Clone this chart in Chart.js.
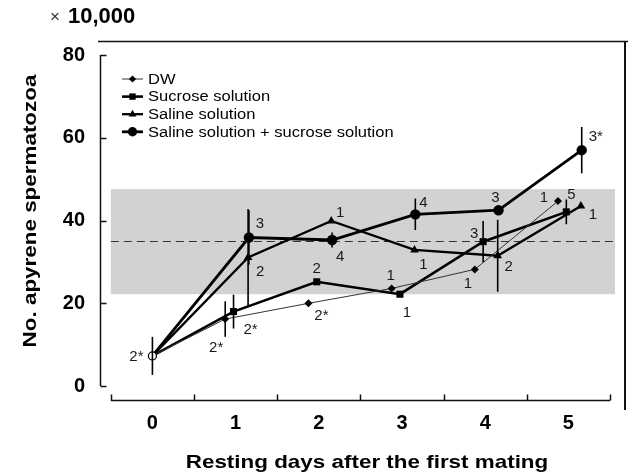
<!DOCTYPE html>
<html>
<head>
<meta charset="utf-8">
<script src="https://cdn.jsdelivr.net/npm/chart.js@4.4.0/dist/chart.umd.min.js"></script>
<style>
  html, body { margin: 0; padding: 0; background: #fff; }
</style>
</head>
<body>
<canvas id="spermChart" width="628" height="472"></canvas>
<script>
// ---- data (x 10,000 apyrene spermatozoa) ----
const days = [0, 1, 2, 3, 4, 5];
const seriesNames = ['DW', 'Sucrose solution', 'Saline solution', 'Saline solution + sucrose solution'];

const dwValues      = [7.3, 16.2, 20.0, 23.6, 28.2, 44.7];
const sucroseValues = [7.3, 18.0, 25.2, 22.2, 34.9, 42.1];
const salineValues  = [7.3, 31.1, 39.9, 32.9, 31.5, 43.5];
const mixValues     = [7.3, 35.9, 35.3, 41.5, 42.5, 57.0];

const dwErrors      = [4.6, 4.3, 0, 0, 0, 0];
const sucroseErrors = [0, 4.1, 0, 0, 5.0, 3.0];
const salineErrors  = [0, 11.7, 0, 0, 8.7, 0];
const mixErrors     = [0, 6.6, 1.8, 3.8, 0, 5.6];

const dwNotes      = ['2*', '2*', '2*', '1', '1', '1'];
const sucroseNotes = ['', '2*', '2', '1', '3', '5'];
const salineNotes  = ['', '2', '1', '1', '2', '1'];
const mixNotes     = ['', '3', '4', '4', '3', '3*'];

const yTicks = [0, 20, 40, 60, 80];
const normalLow = 22.2;
const normalHigh = 47.6;
const normalMean = 35;

// ---- styles ----
const FONT = "Arial, 'Liberation Sans', sans-serif";
const STRETCH = 1.18;

const seriesStyle = [
  { marker: 'rectRot',  radius: 4,   line: 1,   color: '#333', dodge: -0.125 },
  { marker: 'rect',     radius: 5,   line: 2.6, color: '#000', dodge: -0.025 },
  { marker: 'triangle', radius: 5,   line: 2.3, color: '#000', dodge: 0.15 },
  { marker: 'circle',   radius: 5.2, line: 2.8, color: '#000', dodge: 0.16 }
];

// pixel nudges of the sample-size notes from their points
const noteOffsets = [
  [[-16, 1], [-9, 29], [13, 13], [-1, -13], [-7, 14], [-14, -3]],
  [null, [17, 18], [0, -13], [7, 19], [-9, -8], [5, -17]],
  [null, [12, 14], [9, -8], [9, 15], [11, 11], [12, 9]],
  [null, [11, -14], [8, 17], [8, -11], [-3, -12], [14, -13]]
];

const allValues = [dwValues, sucroseValues, salineValues, mixValues];
const allErrors = [dwErrors, sucroseErrors, salineErrors, mixErrors];
const allNotes = [dwNotes, sucroseNotes, salineNotes, mixNotes];

function xOf(s, i) {
  return days[i] === 0 ? 0 : days[i] + seriesStyle[s].dodge;
}

const datasets = seriesNames.map((name, s) => {
  const st = seriesStyle[s];
  return {
    label: name,
    data: allValues[s].map((v, i) => ({ x: xOf(s, i), y: v })),
    borderColor: st.color,
    borderWidth: st.line,
    tension: 0,
    pointStyle: ctx => (s === 0 && ctx.dataIndex === 0) ? 'circle' : st.marker,
    pointRadius: ctx => ctx.dataIndex === 0 ? (s === 0 ? 4 : 0) : st.radius,
    pointBackgroundColor: ctx => (s === 0 && ctx.dataIndex === 0) ? '#fff' : '#000',
    pointBorderColor: '#000',
    pointBorderWidth: ctx => (s === 0 && ctx.dataIndex === 0) ? 1.2 : 0,
    pointHoverRadius: 0
  };
});

function stretchedText(ctx, text, x, y, align) {
  ctx.save();
  ctx.translate(x, y);
  ctx.scale(STRETCH, 1);
  ctx.textAlign = align || 'left';
  ctx.fillText(text, 0, 0);
  ctx.restore();
}

const decor = {
  id: 'decor',
  beforeDatasetsDraw(chart) {
    const { ctx, chartArea } = chart;
    const xs = chart.scales.x, ys = chart.scales.y;
    const left = xs.getPixelForValue(days[0] - 0.5);
    const top = ys.getPixelForValue(normalHigh);
    const bottom = ys.getPixelForValue(normalLow);
    ctx.save();
    ctx.fillStyle = '#d2d2d2';
    ctx.fillRect(left, top, chartArea.right - left, bottom - top);
    ctx.strokeStyle = '#333';
    ctx.lineWidth = 1;
    ctx.setLineDash([8, 5]);
    const ym = Math.round(ys.getPixelForValue(normalMean)) + 0.5;
    ctx.beginPath();
    ctx.moveTo(left, ym);
    ctx.lineTo(chartArea.right, ym);
    ctx.stroke();
    ctx.restore();
  },
  afterDatasetsDraw(chart) {
    const { ctx } = chart;
    const xs = chart.scales.x, ys = chart.scales.y;
    ctx.save();
    ctx.strokeStyle = '#000';
    ctx.lineWidth = 1.6;
    allErrors.forEach((errs, s) => {
      errs.forEach((e, i) => {
        if (!e) return;
        const px = xs.getPixelForValue(xOf(s, i));
        ctx.beginPath();
        ctx.moveTo(px, ys.getPixelForValue(allValues[s][i] + e));
        ctx.lineTo(px, ys.getPixelForValue(allValues[s][i] - e));
        ctx.stroke();
      });
    });
    ctx.fillStyle = '#1a1a1a';
    ctx.font = '15px ' + FONT;
    ctx.textAlign = 'center';
    ctx.textBaseline = 'middle';
    allNotes.forEach((notes, s) => {
      notes.forEach((t, i) => {
        if (!t) return;
        const off = noteOffsets[s][i];
        const px = xs.getPixelForValue(xOf(s, i));
        const py = ys.getPixelForValue(allValues[s][i]);
        ctx.fillText(t, px + off[0], py + off[1]);
      });
    });
    ctx.restore();
  },
  afterDraw(chart) {
    const { ctx, chartArea } = chart;
    const xs = chart.scales.x, ys = chart.scales.y;
    ctx.save();
    ctx.strokeStyle = '#111';
    ctx.lineWidth = 1.5;

    // y axis with inward ticks
    const ax = chartArea.left + 0.5;
    ctx.beginPath();
    ctx.moveTo(ax, ys.getPixelForValue(yTicks[yTicks.length - 1]));
    ctx.lineTo(ax, ys.getPixelForValue(yTicks[0]));
    yTicks.forEach(v => {
      const py = Math.round(ys.getPixelForValue(v)) + 0.5;
      ctx.moveTo(ax, py);
      ctx.lineTo(ax + 6, py);
    });
    ctx.stroke();

    // x axis, ticks between the days
    const ay = chartArea.bottom - 0.5;
    const x0 = xs.getPixelForValue(days[0] - 0.5);
    const x1 = xs.getPixelForValue(days[days.length - 1] + 0.5);
    ctx.beginPath();
    ctx.moveTo(x0, ay);
    ctx.lineTo(x1, ay);
    for (let k = 0; k <= days.length; k++) {
      const px = Math.round(xs.getPixelForValue(days[0] - 0.5 + k)) + 0.5;
      ctx.moveTo(px, ay);
      ctx.lineTo(px, ay - 6);
    }
    ctx.stroke();

    // frame lines top and right
    ctx.lineWidth = 1.5;
    ctx.beginPath();
    ctx.moveTo(98, 41.5);
    ctx.lineTo(628, 41.5);
    ctx.stroke();
    ctx.lineWidth = 2;
    ctx.beginPath();
    ctx.moveTo(625, 41);
    ctx.lineTo(625, 410);
    ctx.stroke();

    // legend
    ctx.textBaseline = 'middle';
    ctx.font = '14px ' + FONT;
    ctx.fillStyle = '#000';
    seriesNames.forEach((name, s) => {
      const st = seriesStyle[s];
      const ly = 79 + s * 17.6;
      ctx.strokeStyle = st.color;
      ctx.lineWidth = st.line;
      ctx.beginPath();
      ctx.moveTo(122, ly);
      ctx.lineTo(143, ly);
      ctx.stroke();
      ctx.fillStyle = '#000';
      Chart.helpers.drawPoint(ctx, { pointStyle: st.marker, rotation: 0, radius: st.radius * 0.9, borderWidth: 0 }, 132.5, ly);
      stretchedText(ctx, name, 148, ly + 1, 'left');
    });

    // axis titles
    ctx.fillStyle = '#000';
    ctx.font = 'bold 19px ' + FONT;
    ctx.textBaseline = 'alphabetic';
    stretchedText(ctx, 'Resting days after the first mating', 367 - 0.5 * STRETCH * ctx.measureText('Resting days after the first mating').width, 468, 'left');

    ctx.save();
    ctx.translate(36, 211);
    ctx.rotate(-Math.PI / 2);
    ctx.scale(STRETCH, 1);
    ctx.textAlign = 'center';
    ctx.fillText('No. apyrene spermatozoa', 0, 0);
    ctx.restore();

    // unit note
    ctx.font = '17px ' + FONT;
    ctx.textAlign = 'left';
    ctx.fillStyle = '#333';
    ctx.fillText('\u00d7', 50, 22);
    ctx.fillStyle = '#000';
    ctx.font = 'bold 22px ' + FONT;
    ctx.fillText('10,000', 68, 23);
    ctx.restore();
  }
};

new Chart(document.getElementById('spermChart'), {
  type: 'line',
  data: { datasets: datasets },
  options: {
    responsive: false,
    animation: false,
    layout: { padding: { top: 55, right: 13, left: 0, bottom: 0 } },
    plugins: { legend: { display: false }, tooltip: { enabled: false } },
    scales: {
      x: {
        type: 'linear',
        min: -0.63,
        max: 5.56,
        grid: { display: false, drawTicks: false },
        border: { display: false },
        afterBuildTicks: scale => { scale.ticks = days.map(v => ({ value: v })); },
        afterFit: scale => { scale.height = 71; },
        ticks: {
          autoSkip: false,
          maxRotation: 0,
          padding: 10,
          color: '#000',
          font: { family: FONT, size: 20, weight: 'bold' },
          callback: v => String(v)
        }
      },
      y: {
        min: -3.6,
        max: 80,
        grid: { display: false, drawTicks: false },
        border: { display: false },
        afterBuildTicks: scale => { scale.ticks = yTicks.map(v => ({ value: v })); },
        afterFit: scale => { scale.width = 100; },
        ticks: {
          padding: 15,
          color: '#000',
          font: { family: FONT, size: 20, weight: 'bold' },
          callback: v => String(v)
        }
      }
    }
  },
  plugins: [decor]
});
</script>
</body>
</html>
